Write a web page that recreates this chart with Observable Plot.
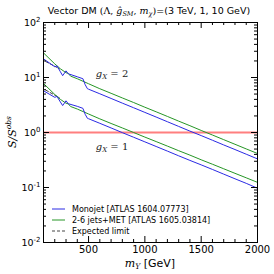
<!DOCTYPE html>
<html><head><meta charset="utf-8">
<script src="https://cdn.jsdelivr.net/npm/d3@7"></script>
<script src="https://cdn.jsdelivr.net/npm/@observablehq/plot@0.6"></script>
<style>body{margin:0;background:#fff}</style>
</head><body><div id="chart"></div>
<script>
// ---- data ----
const monojetMass = [100,150,200,220,250,270,300,320,400,450,470,490,500,600,700,800,900,1000,1100,1200,1300,1400,1500,1600,1700,1800,1900,2000];
const monojetG2 = [21.8,18.5,15.7,16.3,12.7,10.8,13.2,11.7,10.3,9.5,7.4,6.25,6.13,5.06,4.16,3.42,2.82,2.32,1.91,1.57,1.29,1.06,0.879,0.723,0.594,0.490,0.403,0.331];
const monojetG1 = [5.74,5.0,4.36,4.53,3.58,3.09,3.77,3.34,2.99,2.75,2.14,1.81,1.78,1.47,1.21,0.994,0.820,0.676,0.557,0.459,0.377,0.311,0.258,0.213,0.175,0.144,0.119,0.097];
const jetsMass = [100,200,250,300,320,340,400,500,600,700,800,900,1000,1100,1200,1300,1400,1500,1600,1700,1800,1900,2000];
const jetsG2 = [28.0,17.7,14.4,12.2,11.9,10.6,9.5,7.7,6.25,5.16,4.25,3.51,2.88,2.38,1.96,1.61,1.33,1.09,0.90,0.741,0.611,0.503,0.415];
const jetsG1 = [7.78,4.92,4.0,3.41,3.32,2.97,2.67,2.17,1.77,1.46,1.21,1.00,0.825,0.684,0.566,0.467,0.388,0.319,0.265,0.219,0.181,0.150,0.124];
const expectedMass = [120,240];
const expectedG2 = [19.5,14.5];
const expectedG1 = [5.9,4.3];
const xTickValues = [500,1000,1500,2000];
const yTickValues = [0.01,0.1,1,10,100];
const yTickLabels = ["10^-2","10^-1","10^0","10^1","10^2"];
const annotations = [{x:713, y:11.7, g:"2"},{x:713, y:0.56, g:"1"}];

const BLUE = "#2a2ae4", GREEN = "#269626", RED = "#ff7f7f";
const W = 274, H = 274, mL = 43, mR = 17, mT = 22, mB = 32;
const fw = W - mL - mR, fh = H - mT - mB;

const toRows = (xs, ys) => xs.map((x, i) => ({x, y: ys[i]}));
const xMinor = d3.range(100, 2001, 100).filter(v => !xTickValues.includes(v));
const yMinor = [];
for (const d of [0.01, 0.1, 1, 10]) for (let m = 2; m <= 9; m++) yMinor.push(d * m);

const plot = Plot.plot({
  width: W, height: H,
  marginLeft: mL, marginRight: mR, marginTop: mT, marginBottom: mB,
  style: {fontFamily: "DejaVu Sans", fontSize: "10px", color: "black", background: "white"},
  x: {domain: [100, 2000], label: null},
  y: {type: "log", domain: [0.01, 100], label: null},
  marks: [
    Plot.ruleY([1], {stroke: RED, strokeWidth: 2}),
    Plot.line(toRows(expectedMass, expectedG2), {x: "x", y: "y", stroke: "#444", strokeWidth: 1, strokeDasharray: "3,2"}),
    Plot.line(toRows(expectedMass, expectedG1), {x: "x", y: "y", stroke: "#444", strokeWidth: 1, strokeDasharray: "3,2"}),
    Plot.line(toRows(jetsMass, jetsG2), {x: "x", y: "y", stroke: GREEN, strokeWidth: 1}),
    Plot.line(toRows(jetsMass, jetsG1), {x: "x", y: "y", stroke: GREEN, strokeWidth: 1}),
    Plot.line(toRows(monojetMass, monojetG2), {x: "x", y: "y", stroke: BLUE, strokeWidth: 1}),
    Plot.line(toRows(monojetMass, monojetG1), {x: "x", y: "y", stroke: BLUE, strokeWidth: 1}),
    // inward ticks
    Plot.tickY(yTickValues, {y: d => d, insetRight: fw - 6, stroke: "black"}),
    Plot.tickY(yTickValues, {y: d => d, insetLeft: fw - 6, stroke: "black"}),
    Plot.tickY(yMinor, {y: d => d, insetRight: fw - 3, stroke: "black"}),
    Plot.tickY(yMinor, {y: d => d, insetLeft: fw - 3, stroke: "black"}),
    Plot.tickX(xTickValues, {x: d => d, insetTop: fh - 6, stroke: "black"}),
    Plot.tickX(xTickValues, {x: d => d, insetBottom: fh - 6, stroke: "black"}),
    Plot.tickX(xMinor, {x: d => d, insetTop: fh - 3, stroke: "black"}),
    Plot.tickX(xMinor, {x: d => d, insetBottom: fh - 3, stroke: "black"}),
    Plot.axisY({ticks: yTickValues, tickSize: 0, tickPadding: 3, tickFormat: d => yTickLabels[yTickValues.indexOf(d)], label: null, fontSize: 9.5}),
    Plot.axisX({ticks: xTickValues, tickSize: 0, tickPadding: 3, tickFormat: d => String(d), label: null, fontSize: 10}),
    Plot.frame({stroke: "black", strokeWidth: 1})
  ]
});
document.getElementById("chart").appendChild(plot);

const svg = d3.select(plot);
// superscripts on y tick labels
svg.selectAll('g[aria-label="y-axis tick label"] text').each(function() {
  const t = this.textContent;
  const [b, e] = t.split("^");
  const sel = d3.select(this);
  sel.text(null);
  sel.append("tspan").text(b);
  sel.append("tspan").attr("font-size", 7).attr("dy", "-0.45em").text(e);
});

const sx = plot.scale("x"), sy = plot.scale("y");
const serif = "DejaVu Serif";
// title
const title = svg.append("text").attr("x", 149).attr("y", 14).attr("text-anchor", "middle")
  .attr("font-size", 9.5).attr("font-family", "DejaVu Sans").attr("fill", "black");
title.append("tspan").text("Vector DM ");
title.append("tspan").attr("font-family", serif).text("(Λ, ");
title.append("tspan").attr("font-family", serif).attr("font-style", "italic").text("ĝ");
title.append("tspan").attr("font-family", serif).attr("font-style", "italic").attr("font-size", 6.5).attr("dy", 2).text("SM");
title.append("tspan").attr("font-family", serif).attr("dy", -2).text(", ");
title.append("tspan").attr("font-family", serif).attr("font-style", "italic").text("m");
title.append("tspan").attr("font-family", serif).attr("font-style", "italic").attr("font-size", 6.5).attr("dy", 2).text("χ");
title.append("tspan").attr("font-family", serif).attr("dy", -2).text(")");
title.append("tspan").text("=(3 TeV, 1, 10 GeV)");

// y label
const yl = svg.append("text").attr("transform", "translate(16,132) rotate(-90)").attr("text-anchor", "middle")
  .attr("font-family", serif).attr("font-style", "italic").attr("font-size", 11).attr("fill", "black");
yl.append("tspan").text("S/S");
yl.append("tspan").attr("font-size", 7.5).attr("dy", -5).text("obs");

// x label
const xl = svg.append("text").attr("x", 150).attr("y", 267).attr("text-anchor", "middle")
  .attr("font-size", 11).attr("fill", "black");
xl.append("tspan").attr("font-family", serif).attr("font-style", "italic").text("m");
xl.append("tspan").attr("font-family", serif).attr("font-style", "italic").attr("font-size", 7.5).attr("dy", 2).text("Y");
xl.append("tspan").attr("font-family", "DejaVu Sans").attr("dy", -2).text(" [GeV]");

// annotations g_X = ...
for (const a of annotations) {
  const t = svg.append("text").attr("x", sx.apply(a.x)).attr("y", sy.apply(a.y) + 4).attr("text-anchor", "middle")
    .attr("font-family", serif).attr("font-style", "italic").attr("font-size", 10).attr("fill", "#222");
  t.append("tspan").text("g");
  t.append("tspan").attr("font-size", 7).attr("dy", 2).text("X");
  t.append("tspan").attr("dy", -2).attr("font-style", "normal").text(" = " + a.g);
}

// legend
const legend = [
  {label: "Monojet [ATLAS 1604.07773]", color: BLUE, dash: "none"},
  {label: "2-6 jets+MET [ATLAS 1605.03814]", color: GREEN, dash: "none"},
  {label: "Expected limit", color: "#444", dash: "3,2"}
];
legend.forEach((d, i) => {
  const y = 209 + i * 11;
  svg.append("line").attr("x1", 52).attr("x2", 65).attr("y1", y).attr("y2", y)
    .attr("stroke", d.color).attr("stroke-width", 1).attr("stroke-dasharray", d.dash);
  svg.append("text").attr("x", 72).attr("y", y + 3).attr("font-size", 8).attr("text-anchor", "start")
    .attr("font-family", "DejaVu Sans").attr("fill", "black").text(d.label);
});
</script>
</body></html>
